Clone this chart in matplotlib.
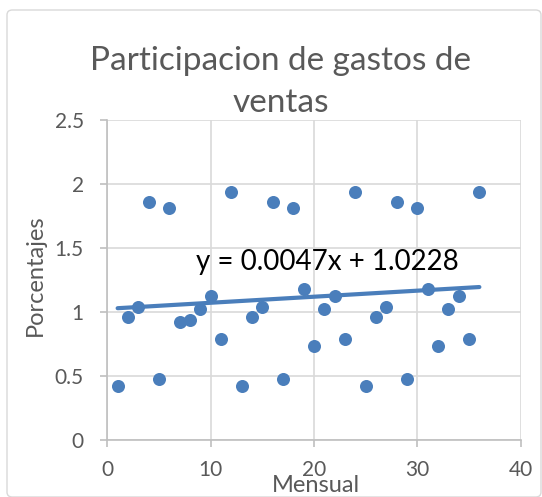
import numpy as np
import matplotlib
matplotlib.use("Agg")
import matplotlib.pyplot as plt
from matplotlib.patches import FancyBboxPatch

months = list(range(1, 37))
values = [0.42, 0.96, 1.04, 1.86, 0.47, 1.81, 0.92, 0.935, 1.02, 1.12, 0.79, 1.94,
          0.42, 0.96, 1.04, 1.86, 0.47, 1.81, 1.18, 0.73, 1.02, 1.12, 0.79, 1.94,
          0.42, 0.96, 1.04, 1.86, 0.47, 1.81, 1.18, 0.73, 1.02, 1.12, 0.79, 1.94]
title_lines = ["Participacion de gastos de", "ventas"]
xlabel = "Mensual"
ylabel = "Porcentajes"
equation = "y = 0.0047x + 1.0228"
xticks = [0, 10, 20, 30, 40]
yticks = [0, 0.5, 1, 1.5, 2, 2.5]
ytick_labels = ["0", "0.5", "1", "1.5", "2", "2.5"]

plt.rcParams['font.family'] = ['Lato', 'DejaVu Sans']
blue = "#4A7EBB"
txt = "#595959"
W, H = 542, 497

fig = plt.figure(figsize=(W / 100, H / 100), dpi=100)
border = FancyBboxPatch((7 / W, 0.0), 534 / W, 487 / H, boxstyle="round,pad=0,rounding_size=0.01",
                        transform=fig.transFigure, facecolor="none", edgecolor="#D9D9D9", lw=1.0,
                        zorder=-1)
fig.patches.append(border)

ax = fig.add_axes([107.3 / W, (H - 439.5) / H, 413.4 / W, 319.5 / H])
ax.patch.set_alpha(0)
ax.set_xlim(0, 40)
ax.set_ylim(0, 2.5)
ax.set_xticks(xticks)
ax.set_yticks(yticks)
ax.set_yticklabels(ytick_labels)
ax.grid(True, color="#D9D9D9", lw=1.2)
ax.set_axisbelow(True)
for s in ["top", "right"]:
    ax.spines[s].set_visible(False)
for s in ["left", "bottom"]:
    ax.spines[s].set_color("#BFBFBF")
    ax.spines[s].set_linewidth(1.2)
ax.tick_params(axis="both", colors="#BFBFBF", length=5, width=1.2, labelcolor=txt, labelsize=15)
ax.tick_params(axis="y", pad=12)
ax.tick_params(axis="x", pad=10)

ax.scatter(months, values, s=88, color=blue, zorder=3, linewidths=0)
coef = np.polyfit(months, values, 1)
xs = np.array([min(months), max(months)])
ax.plot(xs, np.polyval(coef, xs), color=blue, lw=3, zorder=4, solid_capstyle="round")

fig.text(196 / W, 1 - 270 / H, equation, fontsize=20, color="black", va="baseline", ha="left")

fig.text(281 / W, 1 - 70 / H, title_lines[0], ha="center", va="baseline", fontsize=24, color=txt)
fig.text(281 / W, 1 - 112 / H, title_lines[1], ha="center", va="baseline", fontsize=24, color=txt)
fig.text(35 / W, 1 - 275 / H, ylabel, rotation=90, ha="center", va="center", fontsize=17, color=txt)
fig.text(316 / W, 1 - 492 / H, xlabel, ha="center", va="baseline", fontsize=17, color=txt)

fig.savefig("out.png", dpi=100)
